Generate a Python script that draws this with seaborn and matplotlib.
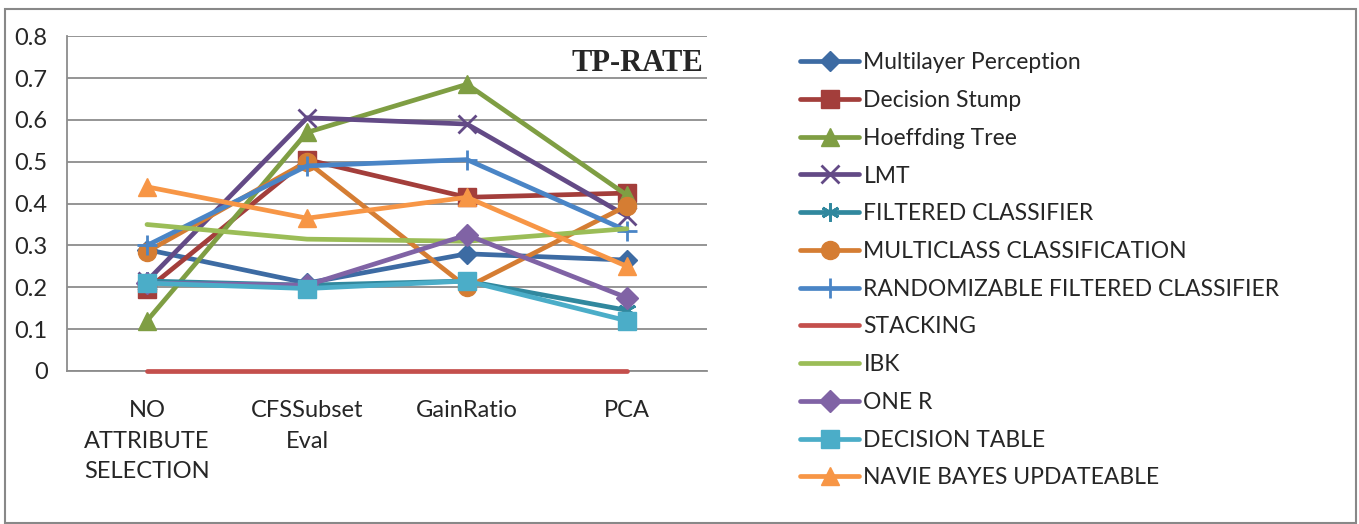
import numpy as np
import pandas as pd
import matplotlib.pyplot as plt
import matplotlib.patches as mpatches
import seaborn as sns

# categories on the x axis
methods = ["NO\nATTRIBUTE\nSELECTION", "CFSSubset\nEval", "GainRatio", "PCA"]

# TP-rate per classifier
multilayer = [0.29, 0.21, 0.28, 0.265]
decision_stump = [0.195, 0.505, 0.415, 0.425]
hoeffding = [0.12, 0.57, 0.685, 0.42]
lmt = [0.215, 0.605, 0.59, 0.37]
filtered = [0.215, 0.205, 0.215, 0.145]
multiclass = [0.285, 0.5, 0.2, 0.395]
randomizable = [0.30, 0.49, 0.505, 0.335]
stacking = [0.0, 0.0, 0.0, 0.0]
ibk = [0.35, 0.315, 0.31, 0.34]
one_r = [0.21, 0.205, 0.325, 0.175]
decision_table = [0.21, 0.197, 0.215, 0.12]
naive_bayes = [0.44, 0.365, 0.415, 0.25]

names = ["Multilayer Perception", "Decision Stump", "Hoeffding Tree", "LMT",
         "FILTERED CLASSIFIER", "MULTICLASS CLASSIFICATION",
         "RANDOMIZABLE FILTERED CLASSIFIER", "STACKING", "IBK", "ONE R",
         "DECISION TABLE", "NAVIE BAYES UPDATEABLE"]
values = [multilayer, decision_stump, hoeffding, lmt, filtered, multiclass,
          randomizable, stacking, ibk, one_r, decision_table, naive_bayes]

colors = ["#3D6BA3", "#A33E3B", "#7F9E43", "#634A86", "#31889E", "#D57D33",
          "#4A85C6", "#C44F4C", "#9BBD57", "#8063A5", "#4BADC8", "#F79646"]
markers = ["D", "s", "^", "x", (6, 2, 0), "o", "+", None, None, "D", "s", "^"]
msizes = [10, 13, 13, 13, 13, 13, 15, 0, 0, 11, 13, 13]

rows = []
for name, vals in zip(names, values):
    for i, v in enumerate(vals):
        rows.append({"classifier": name, "pos": i, "rate": v})
df = pd.DataFrame(rows)

sns.set_style("white")
plt.rcParams['font.family'] = ['Lato', 'DejaVu Sans']

fig = plt.figure(figsize=(13.59, 5.24), dpi=100)
ax = fig.add_axes([0.0493, 0.292, 0.4709, 0.639])

for name, c, m, ms in zip(names, colors, markers, msizes):
    sub = df[df["classifier"] == name]
    sns.lineplot(data=sub, x="pos", y="rate", ax=ax, color=c, linewidth=3.4,
                 marker=m, markersize=ms, markeredgewidth=2 if m in ("x", "+", (6, 2, 0)) else 1,
                 markeredgecolor=c, label=name, solid_capstyle="round",
                 clip_on=False, zorder=3)

ax.set_xlim(-0.5, 3.5)
ax.set_ylim(0, 0.8)
ax.set_yticks(np.arange(0, 0.81, 0.1))
ax.set_yticklabels(["0"] + [f"{v:.1f}" for v in np.arange(0.1, 0.81, 0.1)])
ax.set_xticks(range(4))
ax.set_xticklabels(methods, linespacing=1.55)
ax.set_xticks(np.arange(-0.5, 3.6, 1), minor=True)
ax.tick_params(axis="x", which="major", length=0, pad=21, labelsize=17)
ax.tick_params(axis="x", which="minor", length=6, width=1.2, color="#8c8c8c", direction="out")
ax.tick_params(axis="y", length=6, width=1.2, color="#8c8c8c", labelsize=17, pad=8)
ax.yaxis.grid(True, color="#8c8c8c", linewidth=1.3)
ax.set_axisbelow(True)
for s in ["top", "right"]:
    ax.spines[s].set_visible(False)
for s in ["left", "bottom"]:
    ax.spines[s].set_color("#8c8c8c")
    ax.spines[s].set_linewidth(1.3)
    ax.spines[s].set_zorder(1)
ax.set_xlabel("")
ax.set_ylabel("")

ax.text(0.994, 0.919, "TP-RATE", transform=ax.transAxes, ha="right", va="center",
        fontsize=22, fontweight="bold", family="Liberation Serif")

handles, labels = ax.get_legend_handles_labels()
ax.get_legend().remove()
fig.legend(handles, labels, loc="upper left", bbox_to_anchor=(0.5805, 0.922),
           frameon=False, fontsize=16.5, handlelength=2.55, handletextpad=0.2,
           labelspacing=0.73, borderpad=0)

fig.patches.append(mpatches.Rectangle((0.004, 0.002), 0.994, 0.98, transform=fig.transFigure,
                                      fill=False, edgecolor="#888888", linewidth=1.5))

fig.savefig("out.png", dpi=100)
